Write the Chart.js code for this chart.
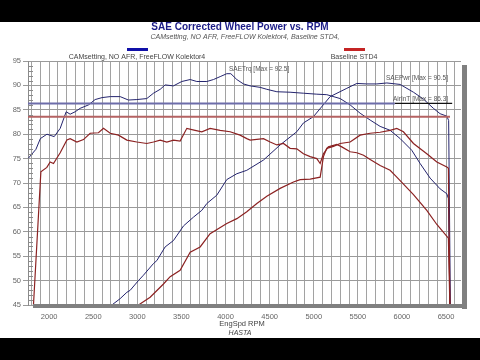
<!DOCTYPE html>
<html>
<head>
<meta charset="utf-8">
<script src="https://cdn.jsdelivr.net/npm/chart.js@4"></script>
<style>
  html, body { margin: 0; padding: 0; background: #000; }
  #wrap { width: 480px; height: 360px; }
</style>
</head>
<body>
<div id="wrap"><canvas id="dynoChart" width="480" height="360"></canvas></div>
<script>
// CAMsetting, NO AFR, FreeFLOW Kolektor4 - torque
const camTrqRpm = [1765, 1850, 1900, 1975, 2057, 2125, 2193, 2238, 2295, 2351, 2446, 2521, 2600, 2692, 2805, 2899, 2994, 3107, 3183, 3259, 3315, 3409, 3504, 3599, 3674, 3788, 3863, 3939, 4014, 4060, 4128, 4203, 4279, 4392, 4468, 4582, 4732, 4883, 5035, 5148, 5300, 5413, 5526, 5640, 5753, 5866, 5980, 6112, 6206, 6320, 6433, 6509, 6527, 6545];
const camTrq    = [75.1, 76.9, 79.1, 80.0, 79.5, 81.2, 84.6, 84.1, 84.6, 85.3, 86.0, 87.1, 87.5, 87.7, 87.7, 87.0, 87.1, 87.3, 88.4, 89.2, 90.1, 89.9, 90.8, 91.2, 90.8, 90.8, 91.2, 91.8, 92.4, 92.4, 91.2, 90.3, 89.9, 89.6, 89.2, 88.7, 88.6, 88.4, 88.2, 88.1, 87.3, 86.0, 84.3, 82.9, 81.6, 80.8, 79.1, 76.7, 74.0, 71.0, 68.8, 67.8, 66.8, 44];

// CAMsetting - power
const camPwrRpm = [2711, 2805, 2881, 2918, 3012, 3069, 3183, 3221, 3315, 3409, 3523, 3636, 3731, 3788, 3901, 4014, 4128, 4241, 4430, 4619, 4808, 4883, 4997, 5186, 5375, 5489, 5600, 5716, 5829, 5980, 6131, 6244, 6357, 6433, 6509, 6530, 6550];
const camPwr    = [45.0, 46.3, 47.6, 48.0, 50.0, 51.1, 53.5, 54.1, 56.9, 58.2, 61.2, 63.0, 64.4, 65.8, 67.5, 70.7, 71.9, 72.6, 74.7, 77.8, 80.5, 82.3, 83.6, 87.7, 89.4, 90.4, 90.3, 90.3, 90.5, 90.2, 88.6, 87.2, 85.3, 84.2, 83.7, 82.8, 44];

// Baseline STD4 - torque
const baseTrqRpm = [1822, 1906, 1974, 2011, 2049, 2125, 2201, 2238, 2314, 2389, 2465, 2559, 2616, 2692, 2786, 2881, 2994, 3107, 3183, 3259, 3334, 3410, 3485, 3561, 3655, 3731, 3825, 3939, 4052, 4165, 4241, 4279, 4430, 4506, 4582, 4657, 4732, 4808, 4883, 4959, 5035, 5073, 5110, 5166, 5262, 5318, 5413, 5489, 5565, 5640, 5753, 5866, 5942, 6131, 6282, 6396, 6527, 6545];
const baseTrq    = [45.0, 72.3, 73.2, 74.3, 74.0, 76.2, 78.8, 79.1, 78.4, 78.9, 80.2, 80.3, 81.2, 80.2, 79.8, 78.8, 78.4, 78.1, 78.4, 78.8, 78.4, 78.8, 78.6, 81.2, 80.8, 80.5, 81.2, 80.8, 80.5, 79.8, 79.1, 78.8, 79.1, 78.4, 77.8, 78.1, 77.1, 77.0, 76.0, 75.4, 75.0, 74.0, 76.0, 77.4, 77.9, 77.4, 76.4, 76.2, 75.7, 74.8, 73.6, 72.6, 71.2, 67.6, 64.4, 61.5, 58.7, 44];

// Baseline STD4 - power
const basePwrRpm = [3013, 3145, 3296, 3372, 3485, 3599, 3712, 3825, 4014, 4128, 4241, 4355, 4468, 4619, 4770, 4846, 4960, 5073, 5110, 5148, 5224, 5300, 5413, 5526, 5640, 5753, 5866, 5942, 6017, 6131, 6282, 6396, 6509, 6527, 6545];
const basePwr    = [45.0, 46.6, 49.3, 50.8, 52.1, 55.8, 56.9, 59.6, 61.7, 62.7, 64.1, 65.8, 67.3, 68.9, 70.2, 70.7, 70.8, 71.2, 75.4, 77.1, 77.5, 78.1, 78.4, 79.8, 80.2, 80.4, 80.8, 81.2, 80.5, 78.1, 76.0, 74.3, 73.3, 73.0, 44];

// AirInT reference lines
const camAirRpm  = [1760, 5920];
const camAir     = [86.3, 86.3];
const camAirTail = [5920, 6570];
const baseAirRpm = [1760, 6545];
const baseAir    = [83.6, 83.6];

const xTickLabels = [2000, 2500, 3000, 3500, 4000, 4500, 5000, 5500, 6000, 6500];
const yTickLabels = [45, 50, 55, 60, 65, 70, 75, 80, 85, 90, 95];

const FONT = "'Liberation Sans', Arial, sans-serif";

function pts(xs, ys) {
    return xs.map((x, i) => ({ x: x, y: ys[i] }));
}

function lineSet(xs, ys, color, width) {
    return {
        data: pts(xs, ys),
        borderColor: color,
        borderWidth: width,
        pointRadius: 0,
        tension: 0,
        fill: false
    };
}

// black bands, shadow frame, titles, legend, notes
const decor = {
    id: "decor",
    beforeDraw(chart) {
        const c = chart.ctx;
        c.save();
        c.fillStyle = "#fff";
        c.fillRect(0, 0, 480, 360);
        c.fillStyle = "#000";
        c.fillRect(0, 0, 480, 22);
        c.fillRect(0, 338, 480, 22);
        c.restore();
    },
    afterDatasetsDraw(chart) {
        const c = chart.ctx;
        const a = chart.chartArea;
        const y = chart.scales.y;
        c.save();
        // minor ticks on the left axis
        c.strokeStyle = "#8a8a8a";
        c.lineWidth = 1;
        for (let v = 46; v < 95; v++) {
            if (v % 5 === 0) continue;
            const py = Math.round(y.getPixelForValue(v)) + 0.5;
            c.beginPath();
            c.moveTo(a.left, py);
            c.lineTo(a.left + 5, py);
            c.stroke();
        }
        // frame shadow
        c.fillStyle = "#808080";
        c.fillRect(a.right + 1, a.top + 4, 5, a.bottom - a.top);
        c.fillRect(a.left + 5, a.bottom - 1, a.right - a.left + 1, 4);

        // notes on the plot
        c.fillStyle = "#555";
        c.font = "6.5px " + FONT;
        c.textBaseline = "middle";
        c.textAlign = "left";
        c.fillText("SAETrq [Max = 92.5]", 229, 69);
        c.fillText("SAEPwr [Max = 90.5]", 386, 78);
        c.fillText("AirInT [Max = 86.3]", 393, 99);
        c.restore();
    },
    afterDraw(chart) {
        const c = chart.ctx;
        c.save();
        c.textAlign = "center";
        c.textBaseline = "middle";
        c.fillStyle = "#1c1c86";
        c.font = "bold 10px " + FONT;
        c.fillText("SAE Corrected Wheel Power vs. RPM", 240, 27);
        c.fillStyle = "#555";
        c.font = "italic 7px " + FONT;
        c.fillText("CAMsetting, NO AFR, FreeFLOW Kolektor4, Baseline STD4,", 245, 37);

        // legend
        c.fillStyle = "#1010a8";
        c.fillRect(127, 48, 21, 3);
        c.fillStyle = "#c42424";
        c.fillRect(344, 48, 21, 3);
        c.fillStyle = "#444";
        c.font = "7px " + FONT;
        c.fillText("CAMsetting, NO AFR, FreeFLOW Kolektor4", 137, 57);
        c.fillText("Baseline STD4", 354, 57);

        // axis title
        c.font = "7.5px " + FONT;
        c.fillText("EngSpd RPM", 242, 324);
        c.font = "italic 7px " + FONT;
        c.fillText("HASTA", 240, 333);
        c.restore();
    }
};

const gridRpm = [];
for (let r = 1800; r <= 6600; r += 100) gridRpm.push(r);

const ctx = document.getElementById("dynoChart").getContext("2d");
const dynoChart = new Chart(ctx, {
    type: "line",
    data: {
        datasets: [
            lineSet(camAirRpm, camAir, "#6d6daa", 2),
            lineSet(camAirTail, camAir, "#111", 1.2),
            lineSet(baseAirRpm, baseAir, "#b46262", 2),
            lineSet(baseTrqRpm, baseTrq, "#8c2222", 1.2),
            lineSet(basePwrRpm, basePwr, "#8c2222", 1.2),
            lineSet(camTrqRpm, camTrq, "#24246e", 1),
            lineSet(camPwrRpm, camPwr, "#24246e", 1)
        ]
    },
    options: {
        responsive: false,
        animation: false,
        devicePixelRatio: 1,
        layout: { padding: { top: 61, right: 19, left: 0, bottom: 0 } },
        plugins: {
            legend: { display: false },
            tooltip: { enabled: false }
        },
        scales: {
            x: {
                type: "linear",
                min: 1760,
                max: 6670,
                afterBuildTicks: (s) => { s.ticks = gridRpm.map(v => ({ value: v })); },
                afterFit: (s) => { s.height = 55; },
                grid: { color: "#a2a2a2", lineWidth: 1, drawTicks: false },
                border: { display: false },
                ticks: {
                    padding: 7,
                    color: "#666",
                    font: { family: FONT, size: 7.5 },
                    maxRotation: 0,
                    autoSkip: false,
                    callback: (v) => xTickLabels.includes(v) ? String(v) : ""
                }
            },
            y: {
                min: 45,
                max: 95,
                afterBuildTicks: (s) => { s.ticks = yTickLabels.map(v => ({ value: v })); },
                afterFit: (s) => { s.width = 28; },
                grid: { color: "#9a9a9a", lineWidth: 1, tickLength: 5 },
                border: { color: "#8a8a8a" },
                ticks: {
                    padding: 2,
                    color: "#666",
                    font: { family: FONT, size: 7.5 }
                }
            }
        }
    },
    plugins: [decor]
});
</script>
</body>
</html>
